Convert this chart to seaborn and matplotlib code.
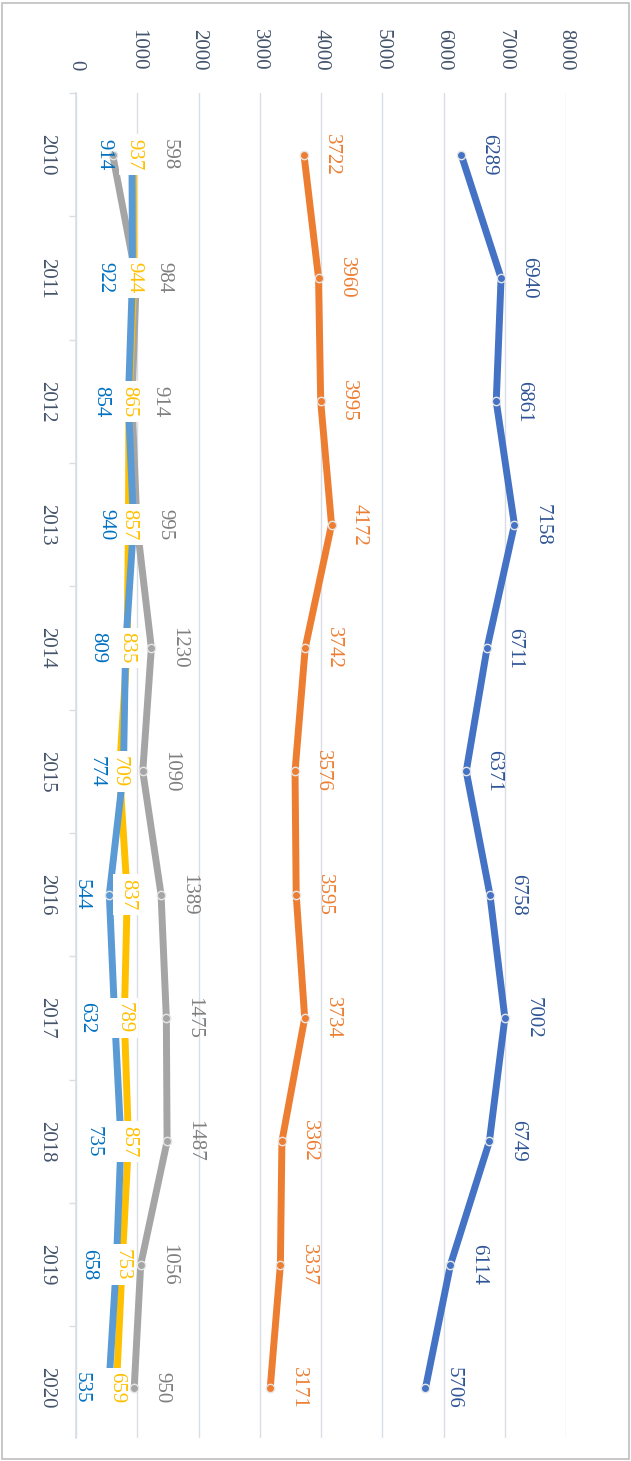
import matplotlib
matplotlib.use("Agg")
import matplotlib.pyplot as plt
import matplotlib.patches as patches
import seaborn as sns
import numpy as np
import pandas as pd

# data
years = list(range(2010, 2021))
series_1 = [6289, 6940, 6861, 7158, 6711, 6371, 6758, 7002, 6749, 6114, 5706]
series_2 = [3722, 3960, 3995, 4172, 3742, 3576, 3595, 3734, 3362, 3337, 3171]
series_3 = [598, 984, 914, 995, 1230, 1090, 1389, 1475, 1487, 1056, 950]
series_4 = [937, 944, 865, 857, 835, 709, 837, 789, 857, 753, 659]
series_5 = [914, 922, 854, 940, 809, 774, 544, 632, 735, 658, 535]
value_ticks = list(range(0, 9000, 1000))

# style: line colour, label colour, label offset (points, along value axis)
STYLES = [
    (series_1, "#4472C4", "#2F5597", 20),
    (series_2, "#ED7D31", "#ED7D31", 20),
    (series_3, "#A5A5A5", "#7F7F7F", 20),
    (series_4, "#FFC000", "#FFC000", 0),
    (series_5, "#5B9BD5", "#0070C0", -20),
]

GRID = "#D9DEE5"
TICK_TEXT = "#44546A"

sns.set_theme(style="white")
plt.rcParams["font.family"] = ["Liberation Serif", "DejaVu Serif"]

fig = plt.figure(figsize=(6.31, 14.61), dpi=100)
fig.patches.append(patches.Rectangle((2 / 631, 2 / 1461), 627 / 631, 1456 / 1461,
                                     transform=fig.transFigure, fill=False,
                                     edgecolor="#BFBFBF", linewidth=1.2))
ax = fig.add_axes([76 / 631, 1 - 1438 / 1461, 490 / 631, 1345 / 1461])

for vals, color, _, _ in STYLES:
    df = pd.DataFrame({"value": vals, "year": years})
    sns.lineplot(data=df, x="value", y="year", orient="y", estimator=None,
                 color=color, linewidth=5, marker="o", markersize=6,
                 markeredgecolor="#E6E6E6", markeredgewidth=1, ax=ax)

for vals, _, lcolor, dx in STYLES:
    for i, (v, yr) in enumerate(zip(vals, years)):
        off = dx
        if vals is series_3 and i == 0:
            off = 41
        kw = {}
        if dx == 0:
            kw["bbox"] = dict(boxstyle="square,pad=0.22", fc="white", ec="none")
        ax.annotate(str(v), xy=(v, yr), xytext=(off, 0), textcoords="offset points",
                    rotation=-90, ha="center", va="center", fontsize=15,
                    color=lcolor, zorder=5, **kw)

ax.set_xlim(0, 8000)
ax.set_ylim(2020.405, 2009.5)
ax.xaxis.tick_top()
ax.set_xticks(value_ticks)
ax.set_xticklabels([str(t) for t in value_ticks])
ax.set_yticks(years)
ax.set_yticklabels([str(y) for y in years])
ax.set_yticks(np.arange(2009.5, 2020.0, 1.0), minor=True)
ax.tick_params(axis="x", length=0, pad=16, labelrotation=-90, labelsize=15,
               labelcolor=TICK_TEXT)
ax.tick_params(axis="y", which="major", length=0, pad=14, labelrotation=-90,
               labelsize=15, labelcolor=TICK_TEXT)
ax.tick_params(axis="y", which="minor", left=True, length=5, width=1, color=GRID)
for lbl in ax.get_yticklabels():
    lbl.set_va("center")
ax.set_xlabel("")
ax.set_ylabel("")
ax.grid(axis="x", color=GRID, linewidth=1)
ax.grid(axis="y", visible=False)
for side in ["top", "right", "bottom"]:
    ax.spines[side].set_visible(False)
ax.spines["left"].set_color(GRID)
ax.set_facecolor("white")

fig.savefig("out.png", dpi=100)
